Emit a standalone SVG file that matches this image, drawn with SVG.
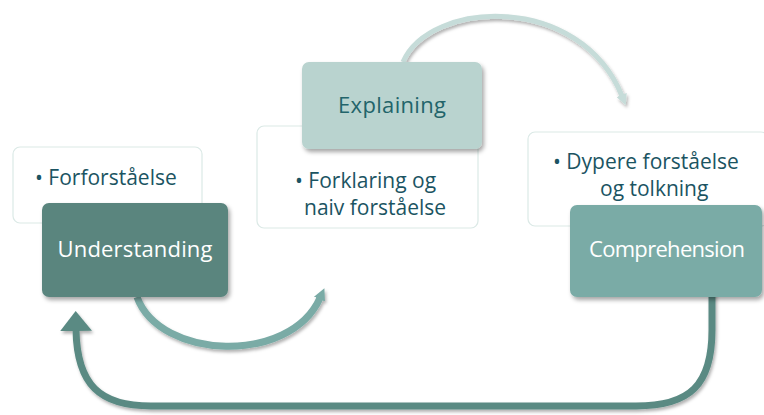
<svg xmlns="http://www.w3.org/2000/svg" width="764" height="415" viewBox="0 0 764 415">
<defs>
<filter id="sh" x="-20%" y="-20%" width="140%" height="150%">
<feDropShadow dx="2" dy="3" stdDeviation="2" flood-color="#000" flood-opacity="0.35"/>
</filter>
<filter id="ash" x="-20%" y="-20%" width="140%" height="150%">
<feDropShadow dx="1.5" dy="2.5" stdDeviation="1.5" flood-color="#000" flood-opacity="0.3"/>
</filter>
<marker id="hMid" viewBox="0 0 10 10" refX="1" refY="5" markerWidth="12" markerHeight="12" orient="auto" markerUnits="userSpaceOnUse">
<path d="M0,0 L10,5 L0,10 z" fill="#7aaba6"/>
</marker>
<marker id="hLight" viewBox="0 0 10 10" refX="1" refY="5" markerWidth="11" markerHeight="11" orient="auto" markerUnits="userSpaceOnUse">
<path d="M0,0 L10,5 L0,10 z" fill="#c6dcd9"/>
</marker>
<marker id="hBig" viewBox="0 0 20 32" refX="1" refY="16" markerWidth="20" markerHeight="32" orient="auto" markerUnits="userSpaceOnUse">
<path d="M0,0 L20,16 L0,32 z" fill="#5a8a83"/>
</marker>
<style>
.tbox{fill:#ffffff;stroke:#dbe9e6;stroke-width:1.2}
.node{filter:url(#sh)}
.lbl{font-family:"Open Sans","Liberation Sans",sans-serif;font-size:22px;text-anchor:middle}
.bul{font-family:"Open Sans","Liberation Sans",sans-serif;font-size:21px;fill:#1b5462}
.conn{fill:none;filter:url(#ash)}
</style>
</defs>
<rect width="764" height="415" fill="#ffffff"/>

<g id="connectors">
<path class="conn" d="M 403 62 C 430 0, 580 -8, 622 96" stroke="#c6dcd9" stroke-width="5" marker-end="url(#hLight)"/>
<path class="conn" d="M 137 297 C 160 360, 290 365, 320 298" stroke="#7aaba6" stroke-width="7" marker-end="url(#hMid)"/>
<path class="conn" d="M 712 290 L 712 330 C 712 385, 690 406, 636 406 L 151 406 C 100 406, 77 385, 76 330" stroke="#5a8a83" stroke-width="7" marker-end="url(#hBig)"/>
</g>

<g id="note-forforstaelse">
<rect class="tbox" x="13" y="147" width="189" height="76" rx="7"/>
<text class="bul" x="35" y="185">• Forforståelse</text>
</g>

<g id="note-forklaring">
<rect class="tbox" x="257" y="126" width="221" height="102" rx="7"/>
<text class="bul" x="295" y="188">• Forklaring og</text>
<text class="bul" x="304" y="215">naiv forståelse</text>
</g>

<g id="note-dypere">
<rect class="tbox" x="528" y="132" width="240" height="94" rx="7"/>
<text class="bul" x="553" y="169">• Dypere forståelse</text>
<text class="bul" x="600" y="196">og tolkning</text>
</g>

<g id="node-understanding">
<rect class="node" x="42" y="203" width="186" height="94" rx="7" fill="#5a857e"/>
<text class="lbl" x="135" y="257" fill="#ffffff" textLength="155" lengthAdjust="spacing">Understanding</text>
</g>

<g id="node-explaining">
<rect class="node" x="302" y="62" width="180" height="87" rx="7" fill="#b9d3cf"/>
<text class="lbl" x="392" y="113" fill="#22646a" textLength="108" lengthAdjust="spacing">Explaining</text>
</g>

<g id="node-comprehension">
<rect class="node" x="570" y="205" width="192" height="92" rx="7" fill="#7aaba6"/>
<text class="lbl" x="667" y="257" fill="#ffffff" textLength="156" lengthAdjust="spacing">Comprehension</text>
</g>
</svg>
